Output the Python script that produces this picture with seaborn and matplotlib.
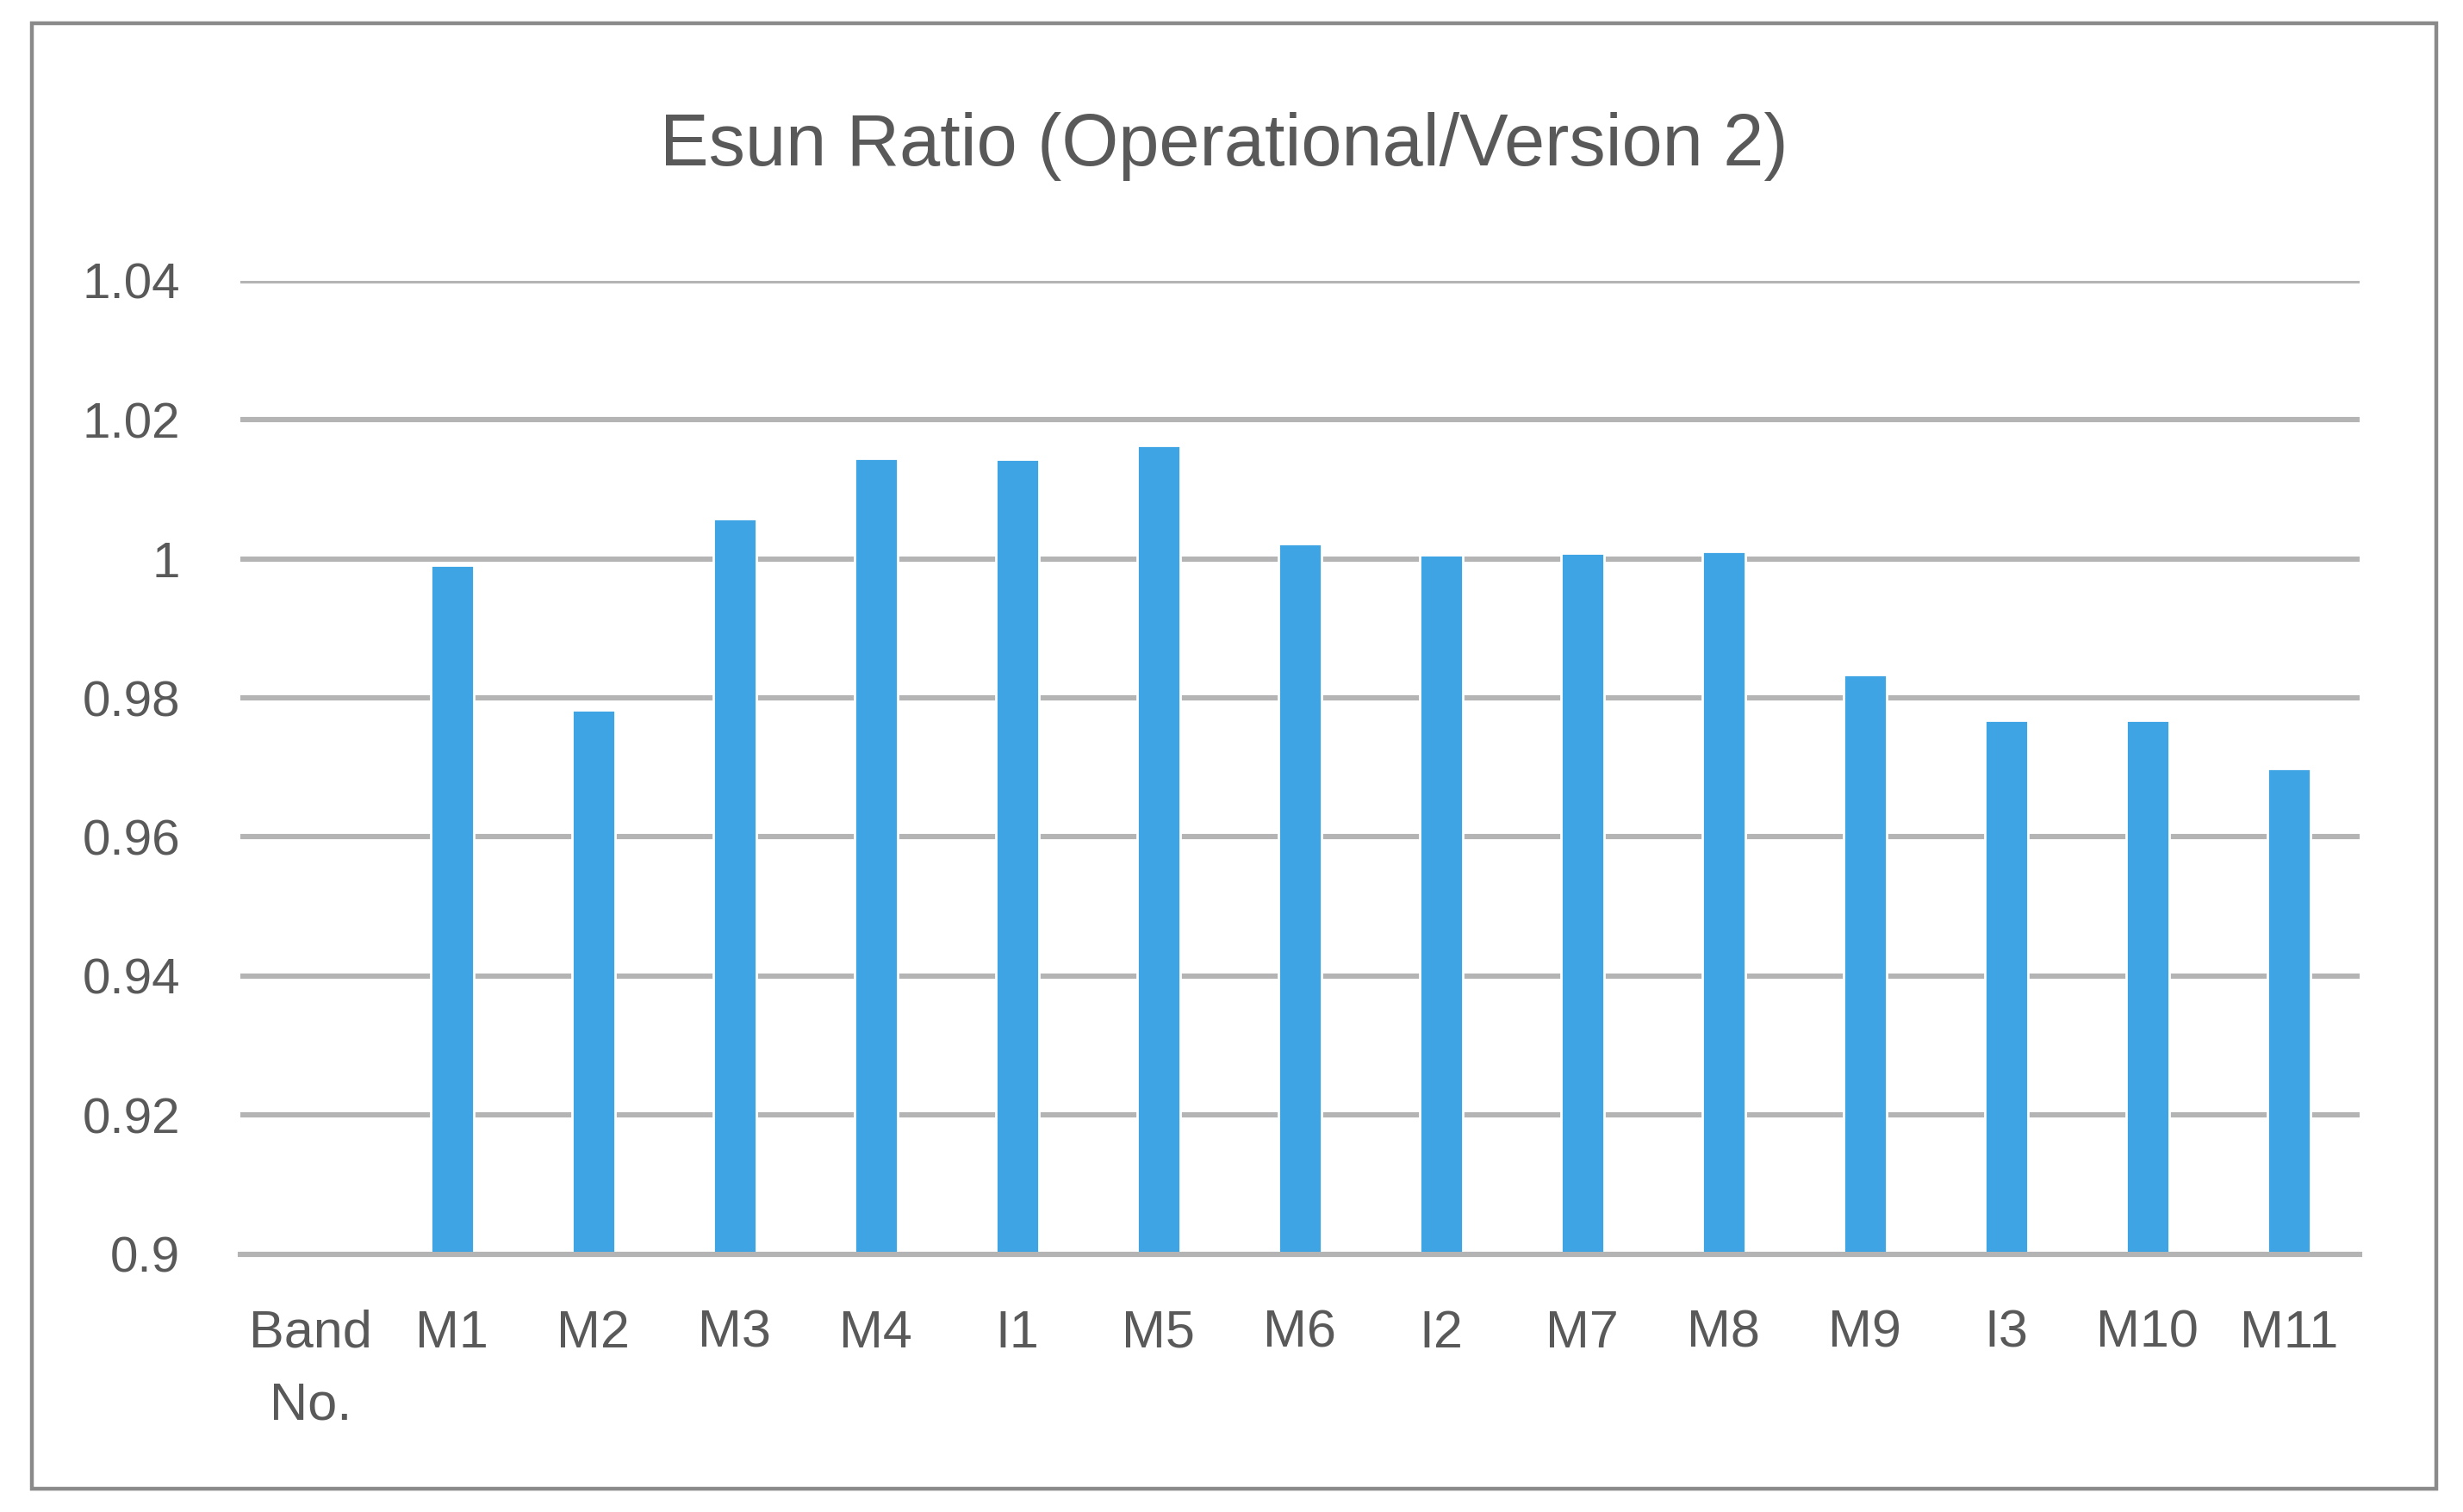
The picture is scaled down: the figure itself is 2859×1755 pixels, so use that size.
import matplotlib
matplotlib.use("Agg")
import matplotlib.pyplot as plt
import pandas as pd
import seaborn as sns
from matplotlib.patches import Rectangle

# Band order as shown on the category axis (first slot is the axis caption)
categories = ["Band\nNo.", "M1", "M2", "M3", "M4", "I1", "M5", "M6",
              "I2", "M7", "M8", "M9", "I3", "M10", "M11"]
bands = ["M1", "M2", "M3", "M4", "I1", "M5", "M6",
         "I2", "M7", "M8", "M9", "I3", "M10", "M11"]
esun_ratio = [0.9991, 0.9783, 1.0058, 1.0144, 1.0143, 1.0163, 1.0022,
              1.0006, 1.0008, 1.0011, 0.9833, 0.9768, 0.9768, 0.9698]
y_ticks = [0.9, 0.92, 0.94, 0.96, 0.98, 1.0, 1.02, 1.04]
y_tick_labels = ["0.9", "0.92", "0.94", "0.96", "0.98", "1", "1.02", "1.04"]

BAR_COLOR = "#3ea4e3"
TEXT_COLOR = "#595959"
GRID_COLOR = "#b4b4b4"

df = pd.DataFrame({"band": bands, "ratio": esun_ratio})

sns.set_theme(style="white")
plt.rcParams["font.family"] = ["Liberation Sans", "DejaVu Sans"]

fig = plt.figure(figsize=(14.295, 8.775), dpi=200)
ax = fig.add_axes([0.0975, 0.1705, 0.8605, 0.6439])

sns.barplot(data=df, x="band", y="ratio", order=categories,
            color=BAR_COLOR, saturation=1, width=0.305, ax=ax)

ax.set_ylim(0.9, 1.04)
ax.set_yticks(y_ticks)
ax.set_yticklabels(y_tick_labels)
ax.set_xlim(-0.5, len(categories) - 0.5)

ax.yaxis.grid(True, color=GRID_COLOR, linewidth=2.2)
ax.set_axisbelow(True)
for side in ["top", "right", "left"]:
    ax.spines[side].set_visible(False)
ax.spines["bottom"].set_color(GRID_COLOR)
ax.spines["bottom"].set_linewidth(2.2)

ax.tick_params(axis="y", length=0, pad=25, labelsize=21, labelcolor=TEXT_COLOR)
ax.tick_params(axis="x", length=0, pad=23, labelsize=22, labelcolor=TEXT_COLOR)
ax.get_xticklabels()[0].set_linespacing(1.6)
ax.set_xlabel("")
ax.set_ylabel("")

fig.text(0.497, 0.903, "Esun Ratio (Operational/Version 2)",
         ha="center", va="center", fontsize=30.5, color=TEXT_COLOR)

# chart frame around the whole picture
fig.patches.append(Rectangle((0.0128, 0.0153), 0.9764, 0.9693,
                             transform=fig.transFigure, fill=False,
                             edgecolor="#8a8a8a", linewidth=1.6))

fig.savefig("out.png", dpi=200, facecolor="white")
plt.close(fig)
